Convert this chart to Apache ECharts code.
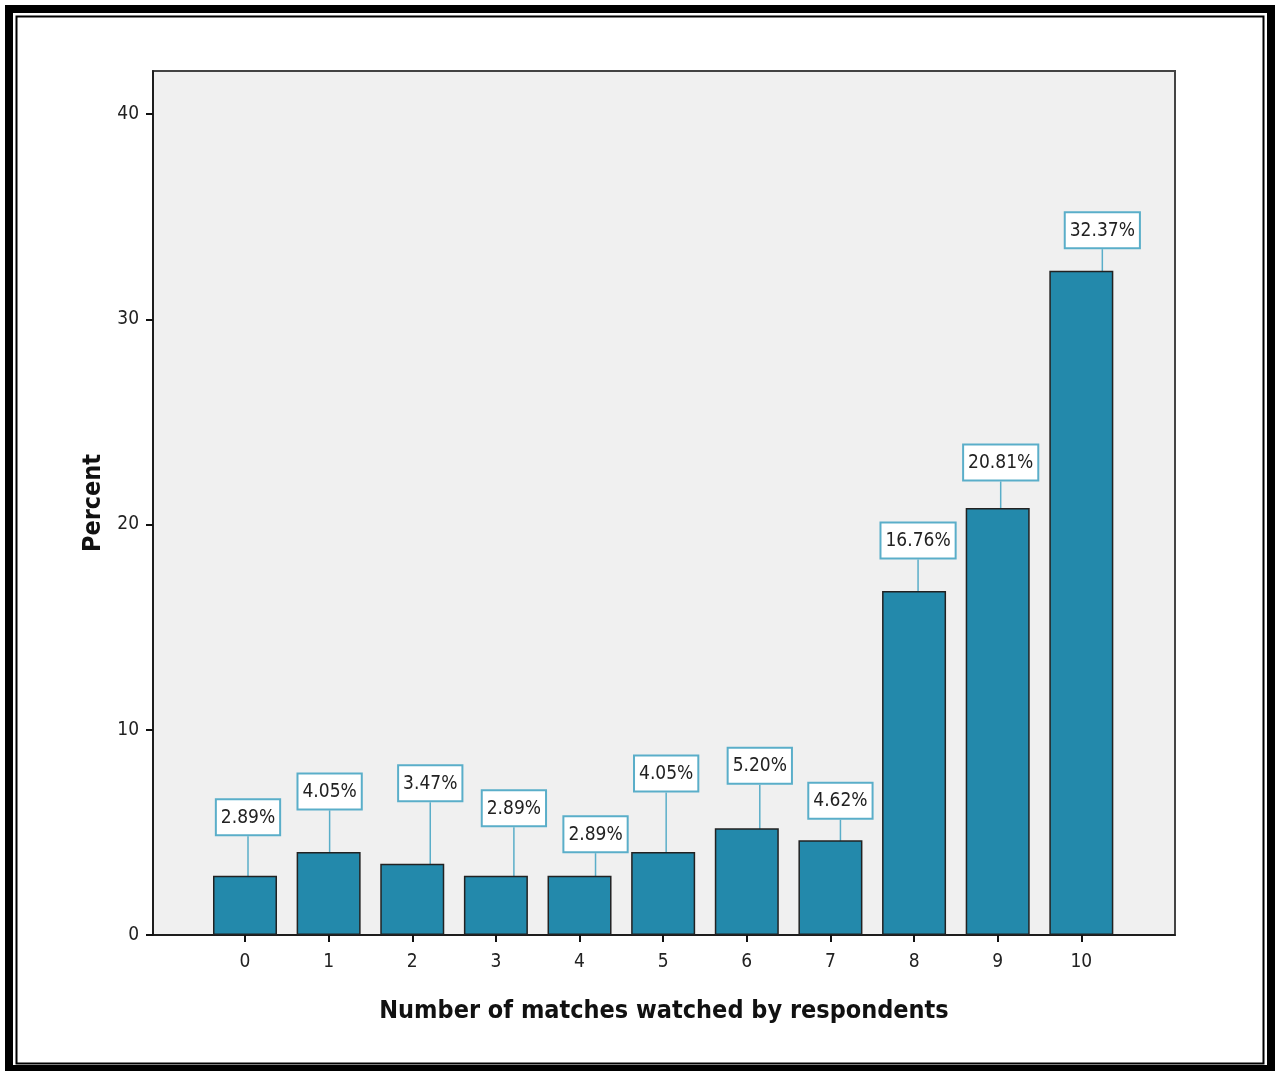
<!DOCTYPE html>
<html>
<head>
<meta charset="utf-8">
<script src="https://cdn.jsdelivr.net/npm/echarts@6/dist/echarts.min.js"></script>
<style>
html,body{margin:0;padding:0;background:#fff;}
#chart{width:1277px;height:1071px;}
</style>
</head>
<body>
<div id="chart"></div>
<script>
// ---- data ----
var categories = [0, 1, 2, 3, 4, 5, 6, 7, 8, 9, 10];
var percents = [2.89, 4.05, 3.47, 2.89, 2.89, 4.05, 5.20, 4.62, 16.76, 20.81, 32.37];
var yTicks = [0, 10, 20, 30, 40];
var xTitle = 'Number of matches watched by respondents';
var yTitle = 'Percent';

// ---- label offsets (style only) ----
var labelDx = [3, 1, 18, 18, 16, 3, 13, 10, 4, 3, 21];
var labelDy = [-41.5, -43.5, -63.5, -50.5, -24.5, -61.5, -45.5, -22.5, -33.5, -28.5, -23.5];

var FONT = '"DejaVu Sans Condensed", "DejaVu Sans", sans-serif';
var chart = echarts.init(document.getElementById('chart'), null, {renderer: 'canvas'});

var seriesData = categories.map(function (c, i) { return [c, percents[i]]; });

chart.setOption({
  animation: false,
  backgroundColor: '#ffffff',
  grid: {
    left: 153, right: 102, top: 71, bottom: 136,
    show: true, backgroundColor: '#f0f0f0', borderColor: '#444', borderWidth: 2
  },
  xAxis: {
    type: 'value',
    min: -1.1, max: 11.12,
    name: xTitle,
    nameLocation: 'middle',
    nameGap: 64,
    nameTextStyle: {fontFamily: FONT, fontWeight: 'bold', fontSize: 25, color: '#111'},
    axisLine: {show: true, onZero: false, lineStyle: {color: '#111', width: 1.5}},
    axisTick: {show: true, customValues: categories, length: 7, lineStyle: {color: '#111', width: 2}},
    axisLabel: {customValues: categories, fontFamily: FONT, fontSize: 19, color: '#222', margin: 18},
    splitLine: {show: false}
  },
  yAxis: {
    type: 'value',
    min: 0, max: 42.1,
    name: yTitle,
    nameLocation: 'middle',
    nameGap: 47,
    nameRotate: 90,
    nameTextStyle: {fontFamily: FONT, fontWeight: 'bold', fontSize: 25, color: '#111'},
    axisLine: {show: true, onZero: false, lineStyle: {color: '#111', width: 1.5}},
    axisTick: {show: true, customValues: yTicks, length: 7, lineStyle: {color: '#111', width: 2}},
    axisLabel: {customValues: yTicks, fontFamily: FONT, fontSize: 19, color: '#222', margin: 14},
    splitLine: {show: false}
  },
  series: [{
    type: 'bar',
    data: seriesData,
    barWidth: 64,
    itemStyle: {color: '#2389ab', borderColor: '#222', borderWidth: 1.5},
    label: {
      show: true,
      position: 'top',
      distance: 0,
      formatter: function (p) { return p.value[1].toFixed(2) + '%'; },
      fontFamily: FONT,
      fontSize: 19,
      color: '#222',
      backgroundColor: '#ffffff',
      borderColor: '#5aaec9',
      borderWidth: 2,
      padding: [8, 4, 7, 4]
    },
    labelLine: {show: true, lineStyle: {color: '#5aaec9', width: 1.5}},
    labelLayout: function (p) {
      return {dx: labelDx[p.dataIndex], dy: labelDy[p.dataIndex]};
    }
  }],
  graphic: [
    {type: 'rect', shape: {x: 9, y: 9, width: 1262, height: 1060}, style: {fill: 'none', stroke: '#000', lineWidth: 8}, silent: true},
    {type: 'rect', shape: {x: 16.5, y: 16.5, width: 1247, height: 1047}, style: {fill: 'none', stroke: '#000', lineWidth: 2}, silent: true}
  ]
});
</script>
</body>
</html>
